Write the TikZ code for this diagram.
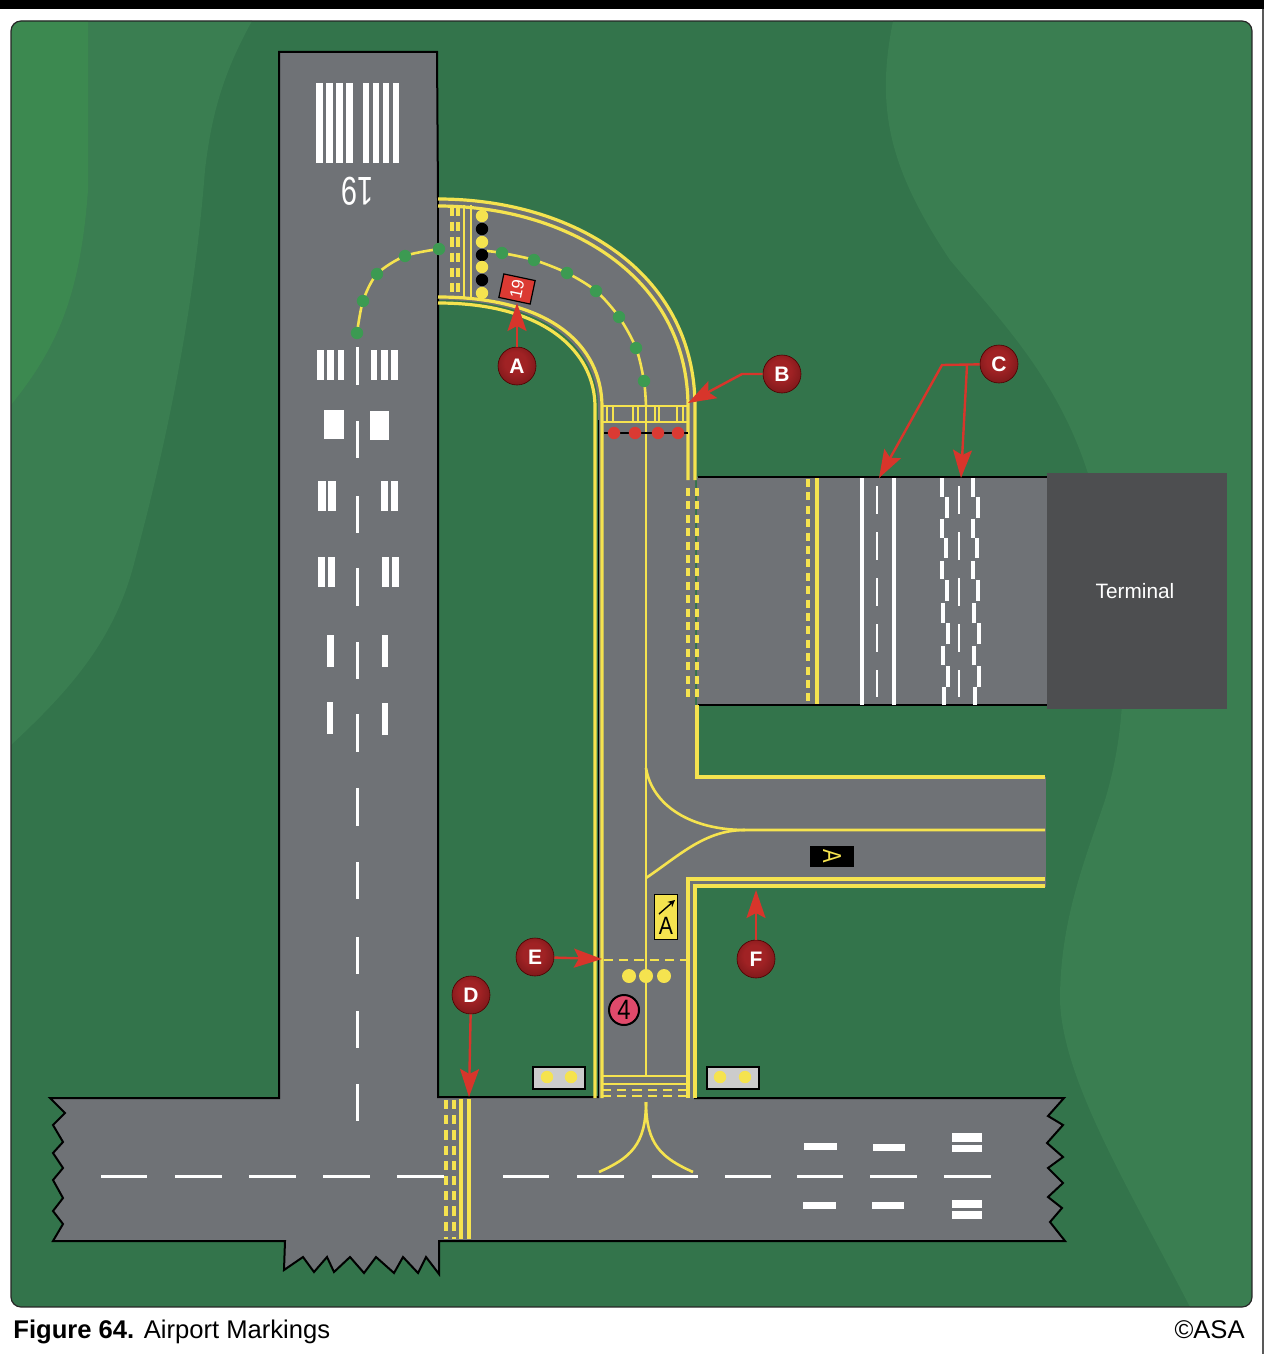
\documentclass[tikz,border=0pt]{standalone}
\usepackage{fontspec}
\setmainfont{Liberation Sans}
\usetikzlibrary{arrows.meta}
\definecolor{fieldgreen}{HTML}{33744B}
\definecolor{fieldlight}{HTML}{3A7E51}
\definecolor{fieldpale}{HTML}{3C8950}
\definecolor{pavegray}{HTML}{6F7276}
\definecolor{termgray}{HTML}{4D4E50}
\definecolor{lineyellow}{HTML}{F5E34F}
\definecolor{dotgreen}{HTML}{3C9A52}
\definecolor{callred}{HTML}{D8352B}
\definecolor{holdred}{HTML}{DB3A33}
\definecolor{roseball}{HTML}{E04A6B}
\definecolor{ballmid}{HTML}{A02224}
\definecolor{ballrim}{HTML}{4E0B0D}
\pgfdeclareradialshading{callshade}{\pgfpoint{-3bp}{6bp}}{color(0bp)=(ballmid);color(14bp)=(ballmid);color(50bp)=(ballrim);color(60bp)=(ballrim)}

\begin{document}
\begin{tikzpicture}[x=0.5pt,y=-0.5pt,
    yline/.style={draw=lineyellow,line width=1.6pt},
    ythin/.style={draw=lineyellow,line width=1.3pt},
    ydash/.style={draw=lineyellow,line width=1.6pt,dash pattern=on 4pt off 2.7pt},
    ydashb/.style={draw=lineyellow,line width=1.6pt,dash pattern=on 4.6pt off 3pt},
    wbar/.style={fill=white,draw=none},
    wline/.style={draw=white,line width=1.1pt},
    callball/.style={circle,minimum size=19pt,inner sep=0pt,draw=black!70!red,line width=0.3pt,
      shading=callshade,text=white,font=\bfseries\fontsize{10.5}{10.5}\selectfont},
    callout/.style={draw=callred,line width=1.2pt,-{Stealth[length=14pt,width=9.5pt,inset=2.5pt]}},
    lamp/.style={circle,minimum size=6.2pt,inner sep=0pt,fill=#1},
    gbox/.style={rectangle,fill=black!20,draw=black,line width=1pt,minimum width=26pt,minimum height=11pt,inner sep=0pt}]
  \useasboundingbox (0,0) rectangle (1264,1354);
  \fill[white] (0,0) rectangle (1264,1354);
  \fill[black] (0,0) rectangle (1264,9);
  \fill[black!65] (1262,9) rectangle (1264,1354);

  % field
  \begin{scope}
    \clip[rounded corners=5pt] (11,21) rectangle (1252,1307);
    \fill[fieldgreen] (11,21) rectangle (1252,1307);
    \fill[fieldlight] (11,21) -- (252,21) .. controls (225,70) and (212,110) .. (205,170)
      .. controls (195,300) and (170,430) .. (135,560)
      .. controls (115,640) and (70,690) .. (11,745) -- cycle;
    \fill[fieldpale] (11,21) -- (88,21) -- (88,190) .. controls (80,300) and (55,350) .. (11,405) -- cycle;
    \fill[fieldlight] (893,21) .. controls (875,110) and (890,170) .. (950,260)
      .. controls (1000,320) and (1060,380) .. (1090,480)
      .. controls (1125,600) and (1135,700) .. (1105,800)
      .. controls (1085,860) and (1060,920) .. (1060,1000)
      .. controls (1062,1080) and (1130,1190) .. (1190,1307)
      -- (1252,1307) -- (1252,21) -- cycle;
  \end{scope}
  \draw[black!85,line width=0.6pt,rounded corners=5pt] (11,21) rectangle (1252,1307);

  % pavement
  \fill[pavegray] (438,199) .. controls (570,199) and (695,270) .. (695,407) -- (695,1100)
    -- (598,1100) -- (598,407) .. controls (598,350) and (550,300) .. (438,300) -- cycle;
  \fill[pavegray] (697,477) rectangle (1047,705);
  \fill[pavegray] (695,777) rectangle (1046,887);
  \fill[termgray] (1047,473) rectangle (1227,709);
  \draw[black,line width=1pt,fill=pavegray,line join=miter] (438,199) -- (437,52) -- (279,52) -- (279,1098)
    -- (50,1098) -- (65,1113) -- (53,1125) -- (63,1142) -- (53,1153) -- (63,1168) -- (53,1180)
    -- (63,1198) -- (53,1211) -- (63,1224) -- (53,1241) -- (285,1241) -- (284,1270)
    -- (303,1257) -- (314,1272) -- (327,1257) -- (334,1272) -- (350,1257) -- (364,1273)
    -- (376,1257) -- (394,1273) -- (403,1257) -- (418,1273) -- (426,1257) -- (439,1274)
    -- (439,1241) -- (1065,1241) -- (1050,1222) -- (1062,1208) -- (1048,1197) -- (1063,1183)
    -- (1048,1168) -- (1063,1157) -- (1047,1143) -- (1063,1125) -- (1048,1116) -- (1064,1098)
    -- (695,1098) -- (598,1097) -- (438,1097) -- (438,300) -- cycle;
  \fill[pavegray] (439,201) rectangle (470,298);
  \fill[pavegray] (599,1090) rectangle (694,1104);
  \draw[black,line width=1pt] (698,477) -- (1047,477);
  \draw[black,line width=1pt] (698,705) -- (1047,705);
  \draw[black,line width=0.8pt] (598.5,420) -- (598.5,1097);
  \node[text=white,font=\fontsize{10.4}{10.4}\selectfont] (termlabel) at (1135,591) {Terminal};

  % runway markings
  \foreach \xa/\xb in {316/323,326/333,336/343,346/353,363/369,373/379,383/389,393/399}
    \fill[wbar] (\xa,83) rectangle (\xb,163);
  \node[text=white,rotate=180,font=\fontsize{20}{20}\selectfont,xscale=0.72] (rwynum) at (357,191) {19};
  \foreach \xa/\xb/\ya/\yb in {317/324/350/380,327/334/350/380,338/344/350/380,371/377/350/380,381/388/350/380,391/398/350/380,
      324/344/410/439,370/389/411/440,318/326/481/511,328/336/481/511,381/388/481/511,391/398/481/511,
      318/325/557/587,328/335/557/587,382/389/557/587,392/399/557/587,327/334/635/667,382/388/635/667,
      327/333/702/734,382/388/703/735}
    \fill[wbar] (\xa,\ya) rectangle (\xb,\yb);
  \foreach \ya/\yb in {347/385,421/458,496/533,568/606,642/679,714/752,788/826,862/899,937/974,1011/1048,1084/1121}
    \draw[wline,line width=1.5pt] (357,\ya) -- (357,\yb);
  \foreach \xa/\xb in {101/147,175/222,249/296,323/370,397/444,503/549,577/624,652/698,725/771,797/843,870/917,944/991}
    \draw[wline,line width=1.5pt] (\xa,1176) -- (\xb,1176);
  \foreach \xa/\xb/\ya/\yb in {804/837/1143/1150,873/905/1144/1151,803/836/1202/1209,872/904/1202/1209,
      952/982/1133/1142,952/982/1145/1152,952/982/1200/1208,952/982/1211/1219}
    \fill[wbar] (\xa,\ya) rectangle (\xb,\yb);

  % road lines on the apron
  \draw[ydash] (808,479) -- (808,704);
  \draw[yline,line width=2pt] (817,478) -- (817,704);
  \draw[wline,line width=1.7pt] (862,478) -- (862,705);
  \draw[wline,line width=1.7pt] (894,478) -- (894,705);
  \foreach \ya/\yb in {486/514,532/560,578/606,624/652,670/697} {
    \draw[wline] (877,\ya) -- (877,\yb);
    \draw[wline] (959,\ya) -- (959,\yb);
  }
  \foreach \ya/\yb/\xa/\xb in {478/497/942/973,497/518/947/978,519/538/942/973,538/558/946/977,561/579/942/973,
      580/601/947/978,603/623/943/974,623/644/948/979,646/665/943/974,666/687/948/979,687/705/944/975} {
    \draw[wline,line width=1.8pt] (\xa,\ya) -- (\xa,\yb);
    \draw[wline,line width=1.8pt] (\xb,\ya) -- (\xb,\yb);
  }

  % taxiway edges
  \draw[yline] (438,199) .. controls (570,199) and (695,270) .. (695,407) -- (695,480);
  \draw[yline] (438,206) .. controls (565,206) and (688,275) .. (688,407) -- (688,480);
  \draw[yline] (438,297) .. controls (550,297) and (602,345) .. (602,407) -- (602,1098);
  \draw[yline] (438,303) .. controls (545,303) and (595,352) .. (595,407) -- (595,1098);
  \draw[ydash] (688,488) -- (688,697);
  \draw[ydash] (697,488) -- (697,697);
  \draw[yline] (697,705) -- (697,777) -- (1045,777);
  \draw[yline] (688,1098) -- (688,879) -- (1045,879);
  \draw[yline] (695,1098) -- (695,886) -- (1045,886);

  % center lines
  \draw[ythin,smooth] plot coordinates {(357,333) (363,301) (377,274) (405,256) (439,249)};
  \draw[ythin,smooth] plot coordinates {(487,251) (502,253) (534,260) (567,273) (596,291) (619,317) (636,348) (644,381) (646,406)};
  \draw[ythin] (646,406) -- (646,1076);
  \draw[ythin] (646,768) .. controls (652,805) and (690,830) .. (745,830) -- (1045,830);
  \draw[ythin] (646,878) .. controls (680,855) and (705,830) .. (745,830);
  \draw[ythin] (646,1102) .. controls (646,1145) and (630,1158) .. (599,1172);
  \draw[ythin] (646,1102) .. controls (646,1145) and (662,1158) .. (693,1172);

  % hold markings
  \draw[ydashb] (452,207) -- (452,297);
  \draw[ydashb] (458,207) -- (458,297);
  \draw[ythin] (464,205) -- (464,298);
  \draw[ythin] (471,205) -- (471,299);
  \draw[ydashb] (446,1100) -- (446,1239);
  \draw[ydashb] (454,1100) -- (454,1239);
  \draw[yline] (461,1099) -- (461,1239);
  \draw[yline] (469,1099) -- (469,1239);
  \draw[ythin] (602,406) -- (688,406);
  \draw[ythin] (602,422) -- (688,422);
  \foreach \xa in {607,613,633,638,655,659,677,683}
    \draw[ythin] (\xa,406) -- (\xa,422);
  \draw[black,line width=1pt] (604,433) -- (688,433);
  \foreach \xa in {614,635,658,678}
    \node[lamp=holdred] (stop\xa) at (\xa,433) {};
  \draw[ythin] (602,1076) -- (688,1076);
  \draw[ythin] (602,1084) -- (688,1084);
  \draw[ydashb,line width=1.2pt] (602,1090) -- (688,1090);
  \draw[ydashb,line width=1.2pt] (602,1096) -- (688,1096);
  \draw[ydashb,line width=1.3pt] (604,960) -- (688,960);

  % lights
  \foreach \ya/\colr/\tag in {216/lineyellow/a,229/black/b,242/lineyellow/c,255/black/d,267/lineyellow/e,280/black/f,293/lineyellow/g}
    \node[lamp=\colr] (stopbar\tag) at (482,\ya) {};
  \foreach \xa/\ya in {357/333,363/301,377/274,405/256,439/249,502/253,534/260,567/273,596/291,619/317,636/348,644/381}
    \node[lamp=dotgreen] (lead\xa) at (\xa,\ya) {};
  \foreach \xa in {629,646,664}
    \node[lamp=lineyellow,minimum size=7pt] (guard\xa) at (\xa,976) {};

  % signs
  \node[rectangle,rotate=-12,fill=holdred,draw=black,line width=0.6pt,minimum width=16pt,minimum height=12pt,inner sep=0pt,
    text=white,font=\fontsize{8.5}{8.5}\selectfont] (signrwy) at (517,289) {\rotatebox{90}{19}};
  \node[rectangle,fill=lineyellow,draw=black,line width=0.7pt,minimum width=11.5pt,minimum height=22.5pt,inner sep=0pt] (signdir) at (666,917) {};
  \node[text=black,font=\fontsize{12.5}{12.5}\selectfont,xscale=0.85] (signdirtext) at (666,926) {A};
  \draw[black,line width=0.7pt,-{Stealth[length=3.5pt,width=3.5pt]}] (659,914) -- (675,900);
  \node[rectangle,fill=black,minimum width=22pt,minimum height=10.5pt,inner sep=0pt,text=lineyellow,
    font=\fontsize{13}{13}\selectfont] (signloc) at (832,856) {\rotatebox{-90}{\scalebox{0.78}[1]{A}}};
  \node[circle,fill=roseball,draw=black,line width=1pt,minimum size=15pt,inner sep=0pt,font=\fontsize{14}{14}\selectfont] (signdist) at (624,1010) {\scalebox{0.85}[1]{4}};
  \node[gbox] (guardleft) at (558.5,1077.5) {};
  \node[gbox] (guardright) at (732.5,1077.5) {};
  \foreach \xa in {547,571,720,745}
    \node[lamp=lineyellow] (wig\xa) at (\xa,1077) {};

  % callouts
  \node[callball] (markA) at (517,366) {A};
  \node[callball] (markB) at (782,374) {B};
  \node[callball] (markC) at (999,364) {C};
  \node[callball] (markD) at (471,995) {D};
  \node[callball] (markE) at (535,957) {E};
  \node[callball] (markF) at (756,959) {F};
  \coordinate (tipA) at (517,303);
  \coordinate (bendB) at (742,374);
  \coordinate (tipB) at (688,403);
  \coordinate (bendC) at (942,365);
  \coordinate (forkC) at (967,365);
  \coordinate (tipCa) at (879,478);
  \coordinate (tipCb) at (961,478);
  \coordinate (tipD) at (469,1097);
  \coordinate (tipE) at (602,959);
  \coordinate (tipF) at (756,890);
  \draw[callout] (markA) -- (tipA);
  \draw[callout] (markB) -- (bendB) -- (tipB);
  \draw[callout] (markC) -- (bendC) -- (tipCa);
  \draw[callout] (forkC) -- (tipCb);
  \draw[callout] (markD) -- (tipD);
  \draw[callout] (markE) -- (tipE);
  \draw[callout] (markF) -- (tipF);

  % caption
  \node[anchor=base west,inner sep=0pt,font=\fontsize{12.8}{12.8}\selectfont] (caption) at (13,1338) {\textbf{Figure 64.} Airport Markings};
  \node[anchor=base east,inner sep=0pt,font=\fontsize{12.8}{12.8}\selectfont] (credit) at (1245,1338) {©ASA};
\end{tikzpicture}
\end{document}
